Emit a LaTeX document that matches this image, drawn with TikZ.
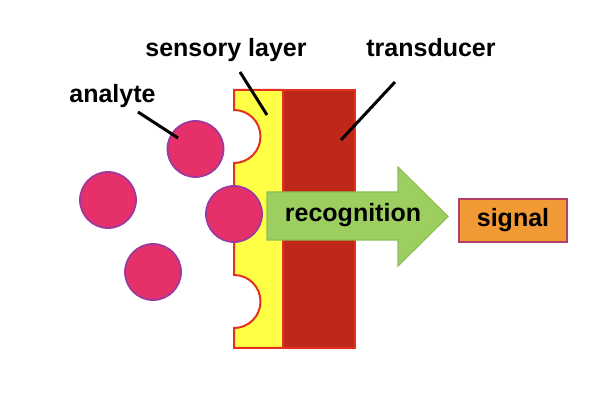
\documentclass[tikz,border=0pt]{standalone}
\usepackage{fontspec}
\setmainfont{Liberation Sans}
\definecolor{layery}{HTML}{FFFF45}
\definecolor{edgered}{HTML}{E4301E}
\definecolor{transred}{HTML}{C0271B}
\definecolor{anafill}{HTML}{E5306A}
\definecolor{anaedge}{HTML}{9C3A9E}
\definecolor{arrowgreen}{HTML}{9DCF60}
\definecolor{arrowedge}{HTML}{8CBF55}
\definecolor{sigfill}{HTML}{F19A35}
\definecolor{sigedge}{HTML}{B0406A}
\tikzset{
  lbl/.style={font=\bfseries\fontsize{12.5pt}{14pt}\selectfont, inner sep=0pt},
  analyte/.style={circle, fill=anafill, draw=anaedge, line width=0.9pt, minimum size=28pt, inner sep=0pt},
  pointer/.style={line width=1.5pt, black},
}
\begin{document}
\begin{tikzpicture}[x=0.5pt, y=-0.5pt]
\useasboundingbox (0,0) rectangle (616,406);
% transducer
\draw[fill=transred, draw=edgered, line width=1pt] (283,90) rectangle (355,348);
% sensory layer with cutouts
\draw[fill=layery, draw=edgered, line width=1pt]
  (234,90) -- (283,90) -- (283,348) -- (234,348) -- (234,328)
  arc[start angle=90, end angle=-90, radius=26.5] -- (234,241)
  arc[start angle=90, end angle=-90, radius=27] -- (234,163)
  arc[start angle=90, end angle=-90, radius=26.5] -- cycle;
% analytes
\node[analyte] (a1) at (195.5,149) {};
\node[analyte] (a2) at (108,200) {};
\node[analyte] (a3) at (153,272) {};
\node[analyte] (a4) at (234,214) {};
% recognition arrow
\draw[fill=arrowgreen, draw=arrowedge, line width=0.6pt]
  (267,192) -- (398,192) -- (398,167) -- (448,216.5) -- (398,266) -- (398,240) -- (267,240) -- cycle;
\node[lbl] (rec) at (353,215) {recognition};
% signal
\node[draw=sigedge, fill=sigfill, line width=0.8pt, minimum width=54pt, minimum height=21.5pt, inner sep=0pt, font=\bfseries\fontsize{12.5pt}{14pt}\selectfont] (sig) at (513,220.5) {signal};
% labels
\node[lbl] (lana) at (112.5,96) {analyte};
\node[lbl] (lsen) at (226,50) {sensory layer};
\node[lbl] (ltra) at (431,48) {transducer};
\coordinate (pana) at (178,138);
\coordinate (psen) at (267,115);
\coordinate (ptra) at (341,140);
\coordinate (sana) at (138,112);
\coordinate (ssen) at (240,72);
\coordinate (stra) at (395,82);
\draw[pointer] (sana) -- (pana);
\draw[pointer] (ssen) -- (psen);
\draw[pointer] (stra) -- (ptra);
\end{tikzpicture}
\end{document}
